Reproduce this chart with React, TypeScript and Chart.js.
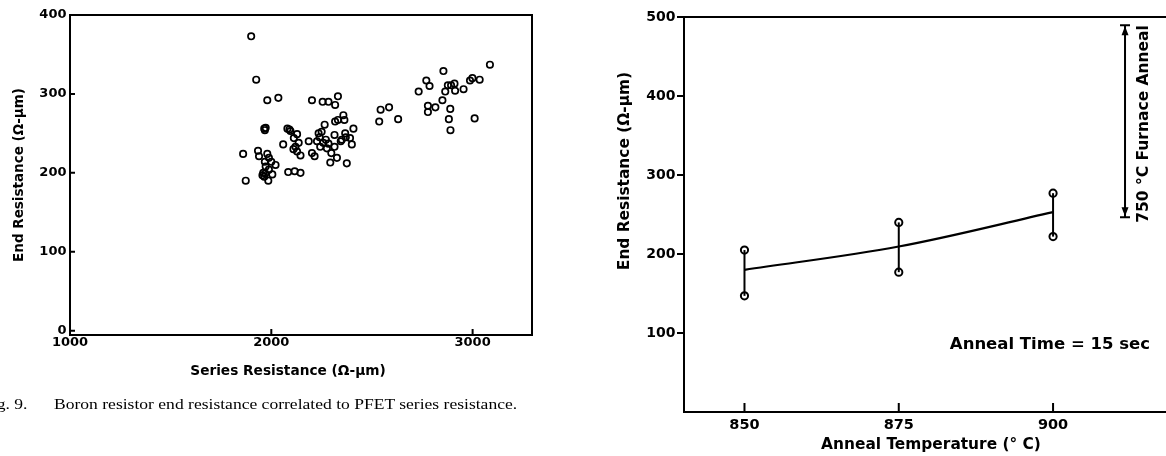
import React, { useEffect, useRef } from "react";
import { Chart, registerables } from "chart.js";

Chart.register(...registerables);

const FONT = '"DejaVu Sans", "Liberation Sans", Arial, sans-serif';

// ---------- Left chart: end resistance vs series resistance ----------
const seriesResistance = [
  1900, 1925, 1980, 2035, 2202, 2255, 2284, 2317, 2331,
  1860, 1873, 1934, 1939, 1965, 1972, 1968, 1980, 1988, 1968, 2000, 2021, 1972, 1988,
  1956, 1965, 1970, 2005, 1985, 1960,
  2059, 2084, 2116, 2145, 2080, 2090, 2095, 2128, 2112, 2136, 2120, 2128, 2145, 2110,
  2186, 2202, 2215, 2235, 2250, 2227, 2243, 2265, 2271, 2276, 2284, 2298, 2293, 2314,
  2317, 2314, 2326, 2331, 2358, 2363, 2367, 2370, 2350, 2391, 2400, 2408, 2375, 2240,
  2258, 2345,
  2536, 2543, 2585, 2630, 2732, 2770, 2786, 2778, 2778, 2815,
  2855, 2850, 2864, 2877, 2893, 2910, 2913, 2889, 2882, 2890,
  2955, 2987, 2999, 3035, 3010, 3086,
];
const endResistance = [
  373, 318, 292, 295, 292, 290, 290, 286, 297,
  224, 190, 228, 221, 256, 257, 254, 224, 219, 214, 214, 210, 208, 204,
  197, 195, 199, 198, 190, 200,
  236, 201, 202, 200, 256, 255, 253, 249, 244, 238, 233, 227, 222, 230,
  240, 225, 221, 250, 252, 240, 233, 261, 242, 231, 237, 225, 213, 248,
  265, 233, 219, 267, 273, 267, 250, 245, 242, 244, 236, 256, 212, 245,
  238, 240,
  265, 280, 283, 268, 303, 317, 310, 285, 277, 283,
  329, 292, 303, 311, 311, 313, 304, 281, 268, 254,
  306, 317, 320, 318, 269, 337,
];
const leftXTicks = [1000, 2000, 3000];
const leftYTicks = [0, 100, 200, 300, 400];

// ---------- Right chart: end resistance vs anneal temperature ----------
const annealTemps = [850, 875, 900];
const endResHigh = [205, 240, 277];
const endResLow = [147, 177, 222];
const endResFit = [180, 209.5, 253];
const rightXTicks = [850, 875, 900];
const rightYTicks = [100, 200, 300, 400, 500];
const furnaceRange = [246.5, 489.5];

const decorPlugin = {
  id: "decor",
  afterDraw(chart: any, _args: any, opts: any) {
    const { ctx, chartArea: ca, scales } = chart;
    const xs = scales.x;
    const ys = scales.y;
    ctx.save();
    ctx.strokeStyle = "#000";
    ctx.fillStyle = "#000";
    ctx.lineWidth = 2;
    ctx.lineCap = "square";
    // frame
    ctx.beginPath();
    for (const side of opts.frame || []) {
      if (side === "top") { ctx.moveTo(ca.left, ca.top); ctx.lineTo(ca.right, ca.top); }
      if (side === "bottom") { ctx.moveTo(ca.left, ca.bottom); ctx.lineTo(ca.right, ca.bottom); }
      if (side === "left") { ctx.moveTo(ca.left, ca.top); ctx.lineTo(ca.left, ca.bottom); }
      if (side === "right") { ctx.moveTo(ca.right, ca.top); ctx.lineTo(ca.right, ca.bottom); }
    }
    ctx.stroke();
    // inward ticks
    ctx.lineCap = "butt";
    ctx.beginPath();
    if (opts.xTickLen) {
      for (const t of xs.ticks) {
        const px = xs.getPixelForValue(t.value);
        ctx.moveTo(px, ca.bottom);
        ctx.lineTo(px, ca.bottom - opts.xTickLen);
      }
    }
    if (opts.yTickLen) {
      for (const t of ys.ticks) {
        const py = ys.getPixelForValue(t.value);
        ctx.moveTo(ca.left, py);
        ctx.lineTo(ca.left + opts.yTickLen, py);
      }
    }
    ctx.stroke();
    // arrow annotation
    if (opts.arrow) {
      const ax = xs.getPixelForValue(opts.arrow.x);
      const yTop = ys.getPixelForValue(opts.arrow.y1);
      const yBot = ys.getPixelForValue(opts.arrow.y0);
      ctx.lineWidth = 2;
      ctx.beginPath();
      ctx.moveTo(ax, yTop); ctx.lineTo(ax, yBot);
      ctx.moveTo(ax - 5, yTop); ctx.lineTo(ax + 5, yTop);
      ctx.moveTo(ax - 5, yBot); ctx.lineTo(ax + 5, yBot);
      ctx.stroke();
      ctx.beginPath();
      ctx.moveTo(ax, yTop + 1); ctx.lineTo(ax - 3.5, yTop + 10); ctx.lineTo(ax + 3.5, yTop + 10); ctx.closePath();
      ctx.moveTo(ax, yBot - 1); ctx.lineTo(ax - 3.5, yBot - 10); ctx.lineTo(ax + 3.5, yBot - 10); ctx.closePath();
      ctx.fill();
    }
    // texts
    for (const t of opts.texts || []) {
      let x = t.x, y = t.y;
      if (t.data) { x = xs.getPixelForValue(t.x); y = ys.getPixelForValue(t.y); }
      ctx.save();
      ctx.translate(x, y);
      if (t.rot) ctx.rotate(t.rot);
      ctx.font = `bold ${t.size}px ${FONT}`;
      ctx.textAlign = t.align || "center";
      ctx.textBaseline = "middle";
      ctx.fillText(t.text, 0, 0);
      ctx.restore();
    }
    ctx.restore();
  },
};

function tickFont(size: number) {
  return { family: FONT, size, weight: "bold" as const };
}
const plainLabel = (v: any) => String(v);

function fixHeight(h: number) {
  return (s: any) => {
    s.height = h;
    s.paddingLeft = 0;
    s.paddingRight = 0;
  };
}
function fixWidth(w: number) {
  return (s: any) => {
    s.width = w;
    s.paddingTop = 0;
    s.paddingBottom = 0;
  };
}

function makeLeftConfig(): any {
  return {
    type: "scatter",
    data: {
      datasets: [
        {
          data: seriesResistance.map((x, i) => ({ x, y: endResistance[i] })),
          pointStyle: "circle",
          pointRadius: 3.2,
          borderWidth: 1.7,
          borderColor: "#000",
          backgroundColor: "rgba(255,255,255,0)",
        },
      ],
    },
    options: {
      responsive: false,
      animation: false,
      events: [],
      layout: { autoPadding: false, padding: { left: 0, top: 15, right: 28, bottom: 0 } },
      plugins: {
        legend: { display: false },
        tooltip: { enabled: false },
        decor: {
          frame: ["top", "right", "bottom", "left"],
          xTickLen: 6,
          yTickLen: 5,
          texts: [
            { text: "End Resistance (\u03A9-\u00B5m)", x: 19.5, y: 175, rot: -Math.PI / 2, size: 13.5 },
            { text: "Series Resistance (\u03A9-\u00B5m)", x: 288, y: 371.5, size: 13.7 },
          ],
        },
      },
      scales: {
        x: {
          type: "linear",
          min: 1000,
          max: 3295,
          border: { display: false },
          grid: { display: false, drawTicks: false },
          ticks: { font: tickFont(13), color: "#000", padding: 0, maxRotation: 0, callback: plainLabel },
          afterBuildTicks: (s: any) => { s.ticks = leftXTicks.map((v) => ({ value: v })); },
          afterFit: fixHeight(121),
        },
        y: {
          type: "linear",
          min: -5.5,
          max: 400,
          border: { display: false },
          grid: { display: false, drawTicks: false },
          ticks: { font: tickFont(13), color: "#000", padding: 3.5, callback: plainLabel },
          afterBuildTicks: (s: any) => { s.ticks = leftYTicks.map((v) => ({ value: v })); },
          afterFit: fixWidth(70),
        },
      },
    },
    plugins: [decorPlugin],
  };
}

function makeRightConfig(): any {
  const errorBars = annealTemps.map((t, i) => ({
    data: [{ x: t, y: endResLow[i] }, { x: t, y: endResHigh[i] }],
    showLine: true,
    borderColor: "#000",
    borderWidth: 2,
    pointRadius: 0,
  }));
  return {
    type: "scatter",
    data: {
      datasets: [
        {
          data: annealTemps.map((t, i) => ({ x: t, y: endResFit[i] })),
          showLine: true,
          tension: 0.35,
          borderColor: "#000",
          borderWidth: 2.2,
          pointRadius: 0,
        },
        ...errorBars,
        {
          data: [
            ...annealTemps.map((t, i) => ({ x: t, y: endResHigh[i] })),
            ...annealTemps.map((t, i) => ({ x: t, y: endResLow[i] })),
          ],
          pointStyle: "circle",
          pointRadius: 3.6,
          borderWidth: 2,
          borderColor: "#000",
          backgroundColor: "#fff",
        },
      ],
    },
    options: {
      responsive: false,
      animation: false,
      events: [],
      layout: { autoPadding: false, padding: { left: 0, top: 17, right: 0, bottom: 0 } },
      plugins: {
        legend: { display: false },
        tooltip: { enabled: false },
        decor: {
          frame: ["top", "bottom", "left"],
          xTickLen: 9,
          yTickLen: 0,
          arrow: { x: 911.66, y0: furnaceRange[0], y1: furnaceRange[1] },
          texts: [
            { text: "End Resistance (\u03A9-\u00B5m)", x: 45, y: 171, rot: -Math.PI / 2, size: 15.4 },
            { text: "Anneal Temperature (\u00B0 C)", x: 351, y: 445, size: 15.4 },
            { text: "Anneal Time = 15 sec", x: 915.7, y: 84.8, data: true, align: "right", size: 16.5 },
            { text: "750 \u00B0C Furnace Anneal", x: 914.7, y: 364.6, data: true, rot: -Math.PI / 2, size: 15.5 },
          ],
        },
      },
      scales: {
        x: {
          type: "linear",
          min: 840.2,
          max: 918.3,
          border: { display: false },
          grid: { display: false, drawTicks: false },
          ticks: { font: tickFont(14.5), color: "#000", padding: 4.5, maxRotation: 0, callback: plainLabel },
          afterBuildTicks: (s: any) => { s.ticks = rightXTicks.map((v) => ({ value: v })); },
          afterFit: fixHeight(44),
        },
        y: {
          type: "linear",
          min: 0,
          max: 500,
          border: { display: false },
          grid: {
            display: true,
            drawOnChartArea: false,
            drawTicks: true,
            tickLength: 7,
            color: "#000",
            lineWidth: 2,
          },
          ticks: { font: tickFont(14), color: "#000", padding: 1.5, callback: plainLabel },
          afterBuildTicks: (s: any) => { s.ticks = rightYTicks.map((v) => ({ value: v })); },
          afterFit: fixWidth(104),
        },
      },
    },
    plugins: [decorPlugin],
  };
}

function ChartBox({ make, left, width }: { make: () => any; left: number; width: number }) {
  const ref = useRef<HTMLCanvasElement | null>(null);
  useEffect(() => {
    if (!ref.current) return;
    const chart = new Chart(ref.current, make());
    return () => chart.destroy();
  }, []);
  return (
    <canvas
      ref={ref}
      width={width}
      height={456}
      style={{ position: "absolute", left, top: 0, width, height: 456, display: "block" }}
    />
  );
}

const captionStyle: React.CSSProperties = {
  position: "absolute",
  top: 395,
  fontFamily: '"Liberation Serif", "Times New Roman", serif',
  fontSize: 15,
  lineHeight: "18px",
  color: "#000",
  whiteSpace: "nowrap",
  transform: "scaleX(1.17)",
  transformOrigin: "left center",
};

export default function App() {
  return (
    <div
      style={{
        position: "fixed",
        left: 0,
        top: 0,
        width: 1166,
        height: 456,
        overflow: "hidden",
        background: "#fff",
      }}
    >
      <ChartBox make={makeLeftConfig} left={0} width={560} />
      <ChartBox make={makeRightConfig} left={580} width={586} />
      <div style={{ ...captionStyle, left: -18 }}>Fig. 9.</div>
      <div style={{ ...captionStyle, left: 53.6 }}>
        Boron resistor end resistance correlated to PFET series resistance.
      </div>
    </div>
  );
}
